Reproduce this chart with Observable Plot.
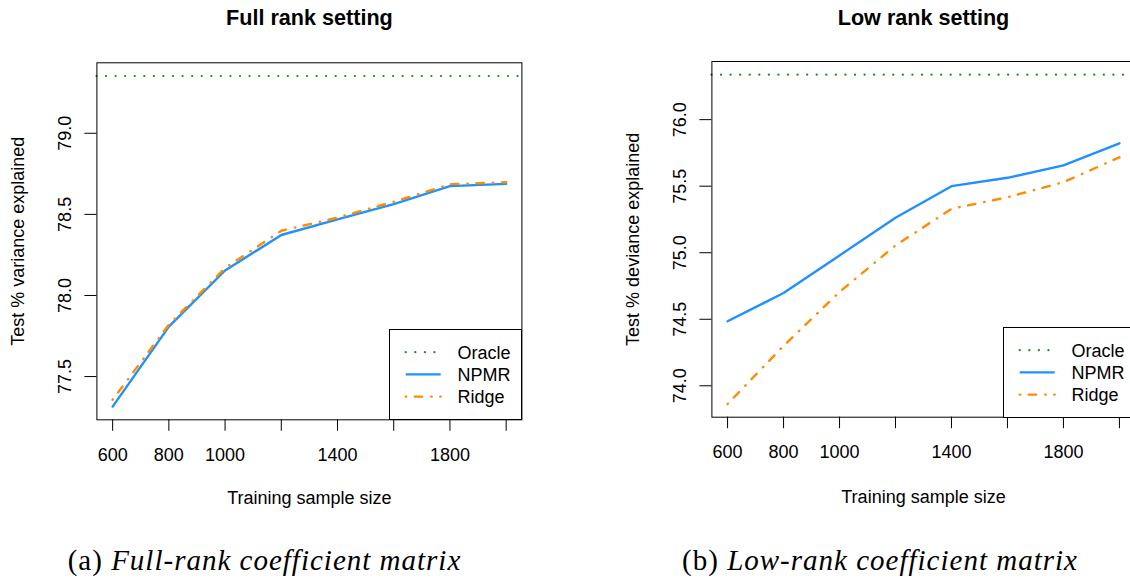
<!DOCTYPE html>
<html><head><meta charset="utf-8">
<script src="https://cdn.jsdelivr.net/npm/d3@7"></script>
<script src="https://cdn.jsdelivr.net/npm/@observablehq/plot@0.6"></script>
<style>
html,body{margin:0;padding:0;background:#fff;}
#wrap{position:relative;width:1130px;height:579px;overflow:hidden;background:#fff;font-family:"Liberation Sans",Arial,sans-serif;}
.panel{position:absolute;top:0;}
.caption{position:absolute;top:546px;font-family:"Liberation Serif","Times New Roman",serif;font-size:29px;line-height:29px;white-space:nowrap;transform:translateX(-50%);letter-spacing:1px;color:#000;}
.caption i{font-style:italic;}
.legend{position:absolute;}
</style></head><body><div id="wrap"></div>
<script>
// ---- data ----
const sampleSizes = [600, 800, 1000, 1200, 1400, 1600, 1800, 2000];
const xTickLabels = [600, 800, 1000, 1400, 1800];
const seriesNames = ["Oracle", "NPMR", "Ridge"];
const seriesColors = ["#228B22", "#1E90FF", "#FF8C00"];

const fullNPMR  = [77.315, 77.808, 78.154, 78.373, 78.469, 78.563, 78.674, 78.688];
const fullRidge = [77.357, 77.820, 78.169, 78.399, 78.480, 78.578, 78.686, 78.698];
const fullOracle = 79.353;
const fullYTicks = [77.5, 78.0, 78.5, 79.0];

const lowNPMR  = [74.485, 74.697, 74.980, 75.263, 75.500, 75.563, 75.656, 75.822];
const lowRidge = [73.863, 74.300, 74.705, 75.055, 75.330, 75.417, 75.530, 75.717];
const lowOracle = 76.338;
const lowYTicks = [74.0, 74.5, 75.0, 75.5, 76.0];

const titles = ["Full rank setting", "Low rank setting"];
const yLabels = ["Test % variance explained", "Test % deviance explained"];
const xLabel = "Training sample size";
const captionTags = ["(a)", "(b)"];
const captionTexts = ["Full-rank coefficient matrix", "Low-rank coefficient matrix"];

// ---- styles ----
const LW = 2.4;
const ridgeDash = "0.5,8.5,7.5,9";
const oracleDash = "0.1,9.47";

function rows(vals) { return sampleSizes.map((n, i) => ({n, v: vals[i]})); }

function makePanel(cfg) {
  const range = [Math.min(...cfg.npmr, ...cfg.ridge, cfg.oracle), Math.max(...cfg.npmr, ...cfg.ridge, cfg.oracle)];
  const pad = (range[1] - range[0]) * 0.04;
  const xpad = (sampleSizes[sampleSizes.length - 1] - sampleSizes[0]) * 0.04;
  const chart = Plot.plot({
    width: 560,
    height: 480,
    marginLeft: cfg.ml, marginRight: 560 - cfg.ml - cfg.fw,
    marginTop: cfg.mt, marginBottom: 480 - cfg.mt - cfg.fh,
    style: {fontFamily: "'Liberation Sans', Arial, sans-serif", fontSize: "18px", color: "#000", background: "transparent", overflow: "visible"},
    x: {domain: [sampleSizes[0] - xpad, sampleSizes[sampleSizes.length - 1] + xpad], label: null},
    y: {domain: [range[0] - pad, range[1] + pad], label: null},
    marks: [
      Plot.ruleY([cfg.oracle], {stroke: seriesColors[0], strokeWidth: 2.2, strokeDasharray: oracleDash, strokeLinecap: "round"}),
      Plot.line(rows(cfg.npmr), {x: "n", y: "v", stroke: seriesColors[1], strokeWidth: LW}),
      Plot.line(rows(cfg.ridge), {x: "n", y: "v", stroke: seriesColors[2], strokeWidth: LW, strokeDasharray: ridgeDash, strokeLinecap: "round"}),
      Plot.frame({stroke: "#000", strokeWidth: 1}),
      Plot.axisX(sampleSizes, {tickSize: 11.5, tickPadding: 17, fontSize: 18, label: null,
        tickFormat: d => xTickLabels.includes(d) ? String(d) : ""}),
      Plot.axisY(cfg.yTicks, {tickSize: 12, tickRotate: -90, tickPadding: 14, fontSize: 18, label: null,
        tickFormat: d => d.toFixed(1), textAnchor: "middle", lineAnchor: "bottom"}),
      Plot.text([cfg.title], {frameAnchor: "top", dy: 24 - cfg.mt, lineAnchor: "bottom", fontSize: 21.6, fontWeight: "bold"}),
      Plot.text([xLabel], {frameAnchor: "bottom", dy: cfg.xLabelBase - (cfg.mt + cfg.fh), lineAnchor: "bottom", fontSize: 18}),
      Plot.text([cfg.yLabel], {frameAnchor: "left", dx: -72.8, rotate: -90, textAnchor: "middle", lineAnchor: "bottom", fontSize: 18})
    ]
  });
  chart.classList.add("panel");
  chart.style.left = cfg.left + "px";
  return chart;
}

function makeLegend(left, top) {
  const ns = "http://www.w3.org/2000/svg";
  const svg = document.createElementNS(ns, "svg");
  svg.setAttribute("width", 140); svg.setAttribute("height", 92);
  svg.setAttribute("class", "legend");
  svg.style.left = left + "px"; svg.style.top = top + "px";
  const rect = document.createElementNS(ns, "rect");
  rect.setAttribute("x", 0.5); rect.setAttribute("y", 0.5);
  rect.setAttribute("width", 132); rect.setAttribute("height", 90);
  rect.setAttribute("fill", "#fff"); rect.setAttribute("stroke", "#000"); rect.setAttribute("stroke-width", 1);
  svg.appendChild(rect);
  const dashes = [oracleDash, null, ridgeDash];
  seriesNames.forEach((name, i) => {
    const yc = 23.2 + i * 22.2;
    const ln = document.createElementNS(ns, "line");
    ln.setAttribute("x1", 16.7); ln.setAttribute("x2", 51.7);
    ln.setAttribute("y1", yc); ln.setAttribute("y2", yc);
    ln.setAttribute("stroke", seriesColors[i]);
    ln.setAttribute("stroke-width", i === 0 ? 2.2 : LW);
    if (dashes[i]) { ln.setAttribute("stroke-dasharray", dashes[i]); ln.setAttribute("stroke-linecap", "round"); }
    svg.appendChild(ln);
    const t = document.createElementNS(ns, "text");
    t.setAttribute("x", 68.4); t.setAttribute("y", yc + 6.6);
    t.setAttribute("font-family", "'Liberation Sans', Arial, sans-serif");
    t.setAttribute("font-size", 18);
    t.textContent = name;
    svg.appendChild(t);
  });
  return svg;
}

function makeCaption(i, cx) {
  const d = document.createElement("div");
  d.className = "caption";
  d.style.left = cx + "px";
  const tag = document.createElement("span");
  tag.textContent = captionTags[i] + " ";
  const it = document.createElement("i");
  it.textContent = captionTexts[i];
  d.appendChild(tag); d.appendChild(it);
  return d;
}

const wrap = document.getElementById("wrap");
wrap.appendChild(makePanel({left: 0, ml: 96.4, mt: 62.3, fw: 425, fh: 357, npmr: fullNPMR, ridge: fullRidge, oracle: fullOracle,
  yTicks: fullYTicks, title: titles[0], yLabel: yLabels[0], xLabelBase: 503.8}));
wrap.appendChild(makePanel({left: 600, ml: 111.4, mt: 61, fw: 423.2, fh: 355.7, npmr: lowNPMR, ridge: lowRidge, oracle: lowOracle,
  yTicks: lowYTicks, title: titles[1], yLabel: yLabels[1], xLabelBase: 502.3}));
wrap.appendChild(makeLegend(389, 329));
wrap.appendChild(makeLegend(1003, 326.5));
wrap.appendChild(makeCaption(0, 264.5));
wrap.appendChild(makeCaption(1, 880));
</script></body></html>
